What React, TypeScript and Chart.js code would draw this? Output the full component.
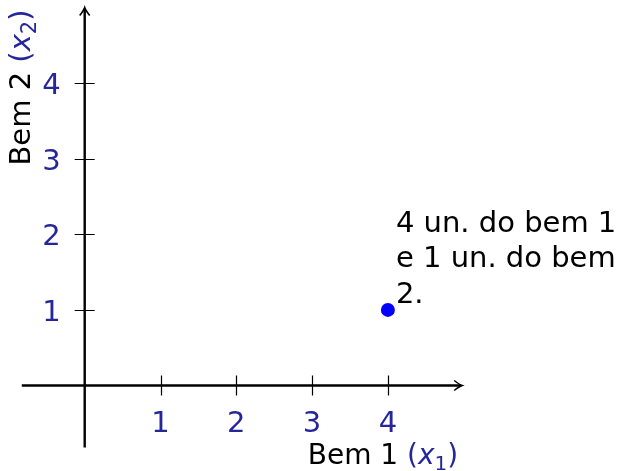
import React, { useEffect, useRef } from "react";
import { Chart, registerables } from "chart.js";

Chart.register(...registerables);

// ---- data ----
const xTicks = [1, 2, 3, 4];
const yTicks = [1, 2, 3, 4];
const pointX = [4];
const pointY = [1];
const annotationLines = ["4 un. do bem 1", "e 1 un. do bem", "2."];
const xAxisRange = [-0.83, 4.98];
const yAxisRange = [-0.82, 5.0];
const xLabelMain = "Bem 1 ";
const yLabelMain = "Bem 2 ";
const xLabelVar = "x";
const xLabelSub = "1";
const yLabelSub = "2";

const BLUE = "rgb(38,38,155)";
const FONT = "'DejaVu Sans', sans-serif";
const FS = 29;
const LFS = 28;

type Seg = { text: string; color: string; font: string; dy: number };

function segs(main: string, sub: string, size: number): Seg[] {
  return [
    { text: main, color: "#000", font: `${size}px ${FONT}`, dy: 0 },
    { text: "(", color: BLUE, font: `${size}px ${FONT}`, dy: 0 },
    { text: xLabelVar, color: BLUE, font: `oblique ${size}px ${FONT}`, dy: 0 },
    { text: sub, color: BLUE, font: `${Math.round(size * 0.72)}px ${FONT}`, dy: 6 },
    { text: ")", color: BLUE, font: `${size}px ${FONT}`, dy: 0 },
  ];
}

function measureSegs(ctx: CanvasRenderingContext2D, s: Seg[]) {
  let w = 0;
  for (const g of s) {
    ctx.font = g.font;
    w += ctx.measureText(g.text).width;
  }
  return w;
}

function drawSegs(ctx: CanvasRenderingContext2D, s: Seg[], x: number, y: number) {
  let cx = x;
  ctx.textBaseline = "alphabetic";
  ctx.textAlign = "left";
  for (const g of s) {
    ctx.font = g.font;
    ctx.fillStyle = g.color;
    ctx.fillText(g.text, cx, y + g.dy);
    cx += ctx.measureText(g.text).width;
  }
}

function arrow(ctx: CanvasRenderingContext2D, x: number, y: number, dir: "right" | "up") {
  ctx.save();
  ctx.translate(x, y);
  if (dir === "up") ctx.rotate(-Math.PI / 2);
  ctx.beginPath();
  ctx.moveTo(-8, -5);
  ctx.quadraticCurveTo(-3, -1, 0, 0);
  ctx.quadraticCurveTo(-3, 1, -8, 5);
  ctx.lineWidth = 1.6;
  ctx.strokeStyle = "#000";
  ctx.stroke();
  ctx.restore();
}

const axesPlugin = {
  id: "axesPlugin",
  afterDatasetsDraw(chart: any) {
    const ctx: CanvasRenderingContext2D = chart.ctx;
    const xs = chart.scales.x;
    const ys = chart.scales.y;
    const ox = xs.getPixelForValue(0);
    const oy = ys.getPixelForValue(0);
    ctx.save();
    // axes lines
    ctx.strokeStyle = "#000";
    ctx.lineWidth = 2.4;
    const xl = xs.getPixelForValue(xAxisRange[0]);
    const xr = xs.getPixelForValue(xAxisRange[1]);
    const yb = ys.getPixelForValue(yAxisRange[0]);
    const yt = ys.getPixelForValue(yAxisRange[1]);
    ctx.beginPath();
    ctx.moveTo(xl, oy);
    ctx.lineTo(xr - 1, oy);
    ctx.moveTo(ox, yb);
    ctx.lineTo(ox, yt + 1);
    ctx.stroke();
    arrow(ctx, xr, oy, "right");
    arrow(ctx, ox, yt, "up");
    // ticks
    ctx.lineWidth = 1.2;
    ctx.beginPath();
    for (const t of xTicks) {
      const px = Math.round(xs.getPixelForValue(t)) + 0.5;
      ctx.moveTo(px, oy - 10);
      ctx.lineTo(px, oy + 10);
    }
    for (const t of yTicks) {
      const py = Math.round(ys.getPixelForValue(t)) + 0.5;
      ctx.moveTo(ox - 10, py);
      ctx.lineTo(ox + 10, py);
    }
    ctx.stroke();
    // tick labels
    ctx.fillStyle = BLUE;
    ctx.font = `${FS}px ${FONT}`;
    ctx.textAlign = "center";
    ctx.textBaseline = "alphabetic";
    for (const t of xTicks) {
      ctx.fillText(String(t), xs.getPixelForValue(t), oy + 46);
    }
    ctx.textAlign = "right";
    for (const t of yTicks) {
      ctx.fillText(String(t), ox - 24, ys.getPixelForValue(t) + 11);
    }
    // x label
    const xs1 = segs(xLabelMain, xLabelSub, LFS);
    const wx = measureSegs(ctx, xs1);
    drawSegs(ctx, xs1, xr - 4 - wx, oy + 78);
    // y label (rotated)
    const ys1 = segs(yLabelMain, yLabelSub, LFS + 1);
    const wy = measureSegs(ctx, ys1);
    ctx.save();
    ctx.translate(ox - 55, yt + 2);
    ctx.rotate(-Math.PI / 2);
    drawSegs(ctx, ys1, -wy, 0);
    ctx.restore();
    // annotation
    ctx.fillStyle = "#000";
    ctx.font = `${FS}px ${FONT}`;
    ctx.textAlign = "left";
    const ax = xs.getPixelForValue(pointX[0]) + 8;
    const ay = ys.getPixelForValue(pointY[0]);
    annotationLines.forEach((line, i) => {
      ctx.fillText(line, ax, ay - 78 + i * 35.5);
    });
    ctx.restore();
  },
};

export default function App() {
  const ref = useRef<HTMLCanvasElement>(null);
  useEffect(() => {
    if (!ref.current) return;
    const W = 620, H = 471;
    const ox = 84.7, oy = 385.5, ux = 75.8, uy = 75.6;
    const chart = new Chart(ref.current, {
      type: "scatter",
      data: {
        datasets: [
          {
            data: pointX.map((x, i) => ({ x, y: pointY[i] })),
            backgroundColor: "#0000ff",
            borderColor: "#0000ff",
            pointRadius: 7,
            pointBorderWidth: 0,
          },
        ],
      },
      options: {
        responsive: false,
        animation: false,
        layout: { padding: 0, autoPadding: false },
        plugins: { legend: { display: false }, tooltip: { enabled: false } },
        scales: {
          x: { type: "linear", display: false, min: -ox / ux, max: (W - ox) / ux },
          y: { type: "linear", display: false, min: -(H - oy) / uy, max: oy / uy },
        },
      },
      plugins: [axesPlugin],
    });
    return () => chart.destroy();
  }, []);
  return (
    <div style={{ position: "fixed", left: 0, top: 0, width: 620, height: 471, background: "#fff" }}>
      <canvas ref={ref} width={620} height={471} />
    </div>
  );
}
